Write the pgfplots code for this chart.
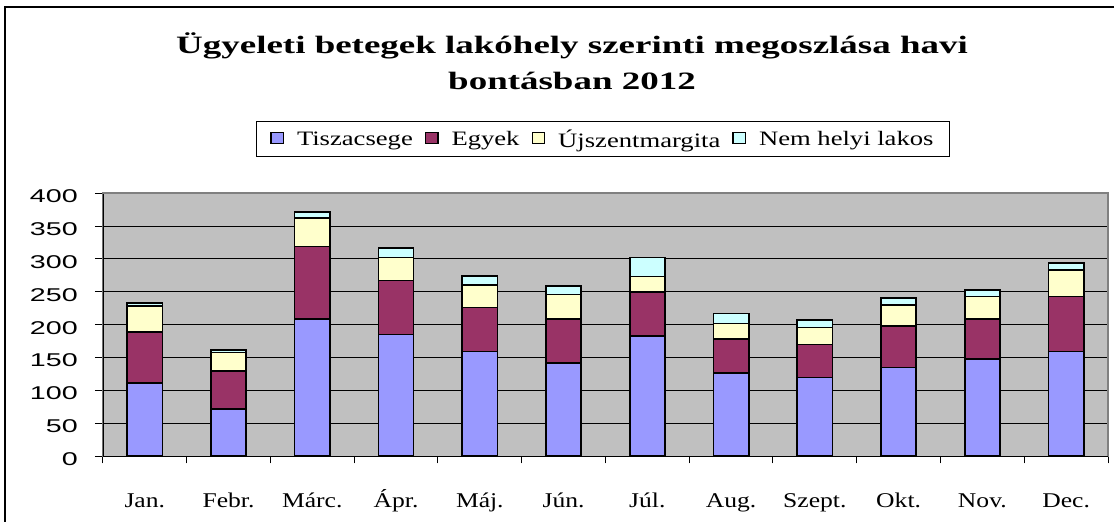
\documentclass[border=0pt]{standalone}
\usepackage{pgfplots}
\pgfplotsset{compat=1.18}
\usepackage{fontspec}
\setmainfont{Liberation Serif}
\newfontfamily\titlefont[FakeStretch=1.48]{Liberation Serif}
\newfontfamily\legfont[FakeStretch=1.3]{Liberation Serif}
\newfontfamily\xfont[FakeStretch=1.22]{Liberation Serif}
\newfontfamily\yfont[FakeStretch=1.55]{Liberation Sans}

\definecolor{tisza}{HTML}{9999FF}
\definecolor{egyek}{HTML}{993366}
\definecolor{ujsz}{HTML}{FFFFCC}
\definecolor{nemh}{HTML}{CCFFFF}
\definecolor{plotbg}{HTML}{C0C0C0}
\definecolor{bordergray}{HTML}{808080}

\pgfplotstableread{
x T E U N
0 111 78 39 5
1 72 58 28 4
2 209 110 43 9
3 185 82 35 15
4 159 67 34 14
5 142 67 37 13
6 183 67 23 29
7 127 51 24 15
8 120 50 26 11
9 135 63 32 11
10 148 61 34 10
11 159 84 40 11
}\data

\begin{document}
\begin{tikzpicture}
\path (0,0) rectangle (1115pt,522pt);
\draw[line width=2pt] (1115pt,515pt) -- (5pt,515pt) -- (5pt,0pt);
\node[anchor=base, font=\titlefont\bfseries\fontsize{25}{30}\selectfont] at (572.5pt,468.7pt) {Ügyeleti betegek lakóhely szerinti megoszlása havi};
\node[anchor=base, font=\titlefont\bfseries\fontsize{25}{30}\selectfont] at (572.5pt,432pt) {bontásban 2012};
\begin{axis}[
    at={(103pt,65.3pt)}, anchor=south west,
    scale only axis, width=1006pt, height=263.4pt,
    ybar stacked, bar width=35.3pt,
    xmin=-0.5, xmax=11.5, ymin=0, ymax=400,
    ytick={0,50,...,400},
    xtick={0,...,11},
    xticklabels={Jan.,Febr.,Márc.,Ápr.,Máj.,Jún.,Júl.,Aug.,Szept.,Okt.,Nov.,Dec.},
    minor xtick={-0.5,0.5,...,11.5},
    major x tick style={draw=none},
    minor x tick style={black, line width=1pt},
    minor tick length=7pt,
    y tick style={black, line width=1pt},
    major tick length=8pt,
    tick align=outside,
    xtick pos=bottom, ytick pos=left,
    ymajorgrids, major grid style={black, line width=1pt},
    axis background/.style={fill=plotbg},
    axis line style={draw=bordergray, line width=1.5pt},
    /pgf/number format/assume math mode=true,
    yticklabel style={font=\yfont\fontsize{18.5}{18.5}\selectfont, anchor=east, inner sep=0pt, xshift=-17pt, yshift=-3pt},
    xticklabel style={font=\xfont\fontsize{21}{21}\selectfont, anchor=base, inner sep=0pt, yshift=-43pt},
    legend style={at={(0.4975,1.204)}, anchor=center, legend columns=4,
        draw=black, line width=1pt, fill=white,
        inner xsep=14pt, inner ysep=6pt,
        font=\legfont\fontsize{20.5}{22}\selectfont,
        /tikz/every odd column/.append style={column sep=11pt},
        /tikz/every even column/.append style={column sep=10pt}},
    legend image code/.code={\draw[#1, line width=1.2pt] (0pt,-4pt) rectangle (12.5pt,7pt);},
]
\addplot[fill=tisza, draw=black, line width=1.6pt] table[x=x, y=T] {\data};
\addlegendentry{Tiszacsege}
\addplot[fill=egyek, draw=black, line width=1.6pt] table[x=x, y=E] {\data};
\addlegendentry{Egyek}
\addplot[fill=ujsz, draw=black, line width=1.6pt] table[x=x, y=U] {\data};
\addlegendentry{Újszentmargita}
\addplot[fill=nemh, draw=black, line width=1.6pt] table[x=x, y=N] {\data};
\addlegendentry{Nem helyi lakos}
\draw[bordergray, line width=1.5pt] (rel axis cs:0,1) -- (rel axis cs:1,1) -- (rel axis cs:1,0);
\draw[black, line width=1.5pt] (rel axis cs:0,1) -- (rel axis cs:0,0) -- (rel axis cs:1,0);
\end{axis}
\end{tikzpicture}
\end{document}
